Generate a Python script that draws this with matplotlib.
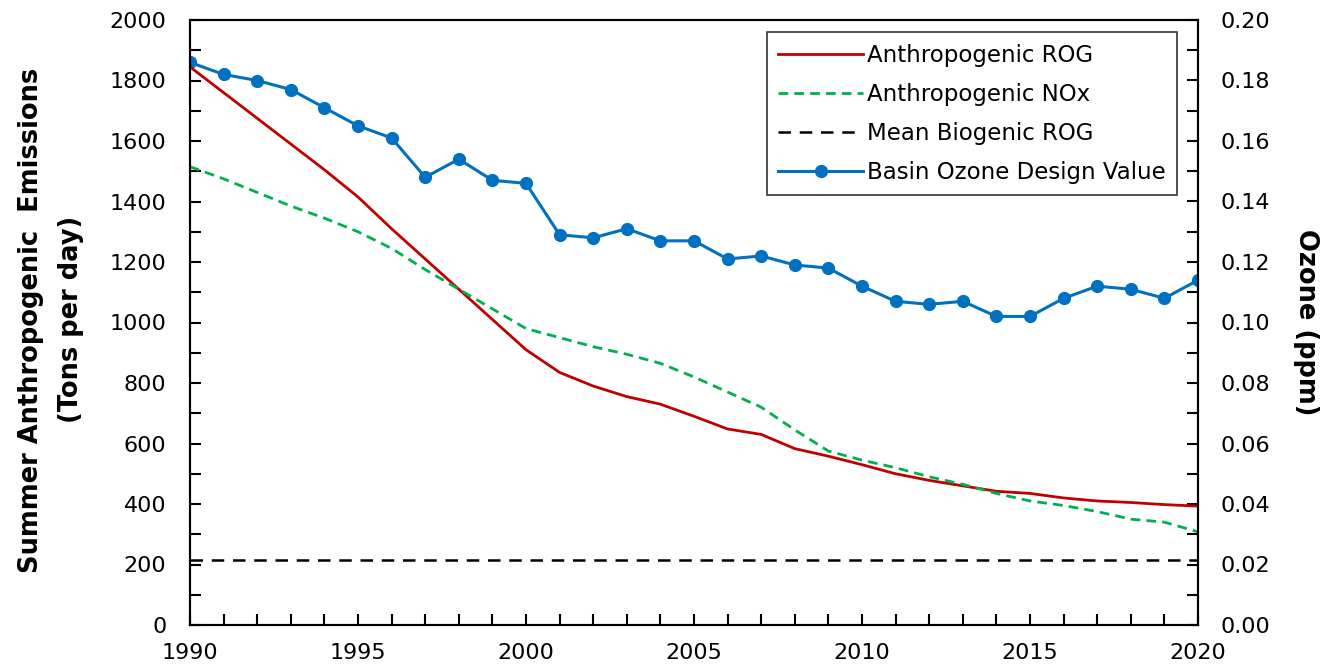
import matplotlib
matplotlib.use("Agg")
import matplotlib.pyplot as plt
from matplotlib.ticker import MultipleLocator, FormatStrFormatter

plt.rcParams['font.family'] = ['DejaVu Sans']

years = list(range(1990, 2021))
rog = [1845, 1760, 1675, 1590, 1505, 1415, 1310, 1210, 1110, 1010,
       910, 835, 790, 755, 730, 690, 648, 630, 583, 558,
       530, 500, 478, 460, 442, 435, 420, 410, 405, 398, 393]
nox = [1515, 1475, 1430, 1385, 1345, 1300, 1245, 1175, 1110, 1045,
       980, 950, 920, 895, 865, 820, 770, 720, 645, 575,
       545, 520, 490, 465, 435, 410, 395, 375, 350, 340, 308]
biogenic = [215] * len(years)
ozone = [0.186, 0.182, 0.180, 0.177, 0.171, 0.165, 0.161, 0.148, 0.154, 0.147,
         0.146, 0.129, 0.128, 0.131, 0.127, 0.127, 0.121, 0.122, 0.119, 0.118,
         0.112, 0.107, 0.106, 0.107, 0.102, 0.102, 0.108, 0.112, 0.111, 0.108, 0.114]

W, H = 1324, 670
fig = plt.figure(figsize=(W / 100, H / 100), dpi=100)
ax = fig.add_axes([190 / W, 1 - 625 / H, (1198 - 190) / W, (625 - 20) / H])
ax2 = ax.twinx()

l1, = ax.plot(years, rog, color='#C00000', lw=2, label='Anthropogenic ROG')
l2, = ax.plot(years, nox, color='#00B050', lw=2, ls=(0, (3.5, 2.2)), label='Anthropogenic NOx')
l3, = ax.plot(years, biogenic, color='black', lw=1.8, ls=(0, (5, 3.5)), label='Mean Biogenic ROG')
l4, = ax2.plot(years, ozone, color='#0070C0', lw=2.2, marker='o', ms=8.5, label='Basin Ozone Design Value')

ax.set_xlim(1990, 2020)
ax.set_ylim(0, 2000)
ax2.set_ylim(0, 0.20)

ax.xaxis.set_major_locator(MultipleLocator(5))
ax.xaxis.set_minor_locator(MultipleLocator(1))
ax.yaxis.set_major_locator(MultipleLocator(200))
ax.yaxis.set_minor_locator(MultipleLocator(100))
ax2.yaxis.set_major_locator(MultipleLocator(0.02))
ax2.yaxis.set_minor_locator(MultipleLocator(0.01))
ax2.yaxis.set_major_formatter(FormatStrFormatter('%.2f'))

for a in (ax, ax2):
    a.tick_params(which='both', direction='in', labelsize=16, width=1.5, length=8)
    for s in a.spines.values():
        s.set_linewidth(1.5)
ax.tick_params(axis='y', pad=17)
ax.tick_params(axis='x', pad=13)
ax2.tick_params(axis='y', pad=16)

fig.text(31 / W, 1 - 320 / H, 'Summer Anthropogenic  Emissions', rotation=90,
         ha='center', va='center', rotation_mode='anchor', fontsize=18.5, fontweight='bold')
fig.text(71 / W, 1 - 319 / H, '(Tons per day)', rotation=90,
         ha='center', va='center', rotation_mode='anchor', fontsize=18.5, fontweight='bold')
fig.text(1306 / W, 1 - 322 / H, 'Ozone (ppm)', rotation=270,
         ha='center', va='center', rotation_mode='anchor', fontsize=18.5, fontweight='bold')

leg = ax.legend(handles=[l1, l2, l3, l4], loc='upper right', bbox_to_anchor=(0.979, 0.98),
                fontsize=16.5, frameon=True, fancybox=False, edgecolor='black',
                handlelength=3.7, handletextpad=0.15, labelspacing=0.7, borderpad=0.5,
                borderaxespad=0)
leg.get_frame().set_linewidth(1.2)
ax2.set_zorder(1)
ax.set_zorder(2)
ax.patch.set_visible(False)

fig.savefig('out.png', dpi=100)
